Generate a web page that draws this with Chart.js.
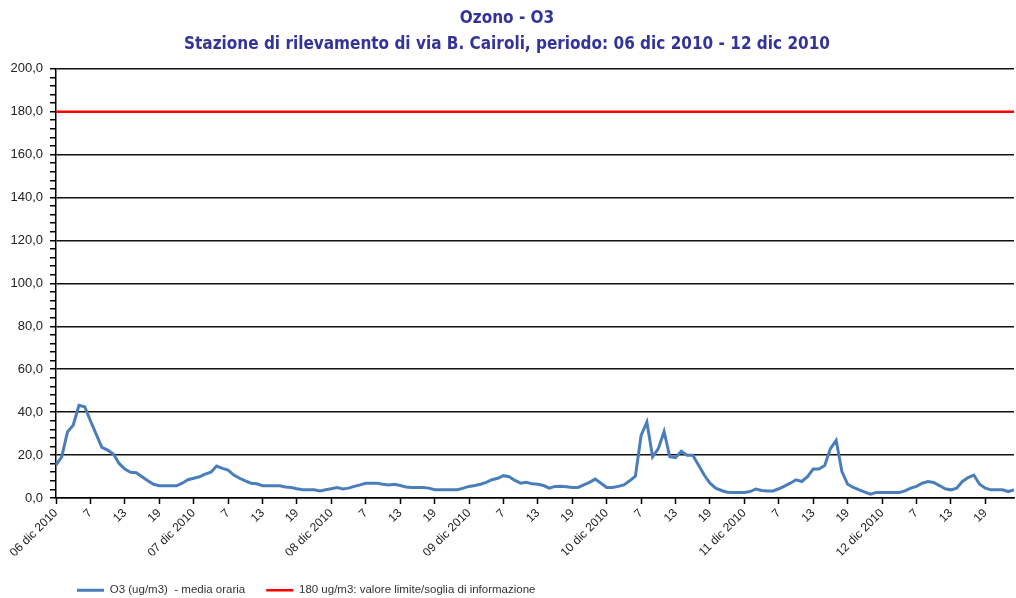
<!DOCTYPE html>
<html>
<head>
<meta charset="utf-8">
<script src="https://cdn.jsdelivr.net/npm/chart.js@4.4.1/dist/chart.umd.min.js"></script>
<style>
  html, body { margin: 0; padding: 0; background: #fff; }
  #wrap { width: 1016px; height: 598px; }
</style>
</head>
<body>
<div id="wrap"><canvas id="chart" width="1016" height="598"></canvas></div>
<script>
// days of the period, each with 24 hourly readings (hour 1 carries the date)
const days = ['06 dic 2010', '07 dic 2010', '08 dic 2010', '09 dic 2010', '10 dic 2010', '11 dic 2010', '12 dic 2010'];

// O3 hourly means (ug/m3), one array per day
const o3Day06 = [15.4, 19.2, 30.8, 33.9, 43.2, 42.5, 36.0, 29.8, 23.6, 22.3, 20.5, 16.1, 13.5, 12.0, 11.8, 9.9, 8.0, 6.4, 5.7, 5.7, 5.7, 5.7, 6.9, 8.5];
const o3Day07 = [9.2, 9.9, 11.1, 12.0, 14.9, 13.8, 13.0, 10.7, 9.2, 8.0, 6.9, 6.6, 5.7, 5.7, 5.7, 5.7, 5.1, 4.9, 4.3, 3.9, 3.9, 3.8, 3.3, 3.8];
const o3Day08 = [4.3, 4.9, 4.2, 4.6, 5.4, 6.1, 6.9, 6.9, 6.9, 6.4, 6.1, 6.4, 5.8, 5.1, 4.9, 4.9, 4.9, 4.6, 3.9, 3.9, 3.9, 3.9, 3.9, 4.6];
const o3Day09 = [5.4, 5.8, 6.4, 7.3, 8.5, 9.2, 10.4, 9.9, 8.2, 6.9, 7.3, 6.6, 6.4, 5.8, 4.6, 5.4, 5.5, 5.2, 4.9, 4.9, 6.1, 7.3, 8.8, 6.9];
const o3Day10 = [4.9, 4.9, 5.4, 6.1, 8.0, 10.2, 29.2, 35.4, 19.2, 23.0, 31.0, 19.2, 18.8, 21.8, 19.9, 19.9, 15.4, 10.7, 6.9, 4.6, 3.5, 2.7, 2.6, 2.6];
const o3Day11 = [2.6, 3.0, 4.2, 3.5, 3.3, 3.3, 4.3, 5.5, 6.9, 8.5, 7.7, 9.9, 13.5, 13.5, 15.1, 23.0, 26.9, 12.3, 6.4, 4.9, 3.8, 2.7, 1.8, 2.6];
const o3Day12 = [2.6, 2.6, 2.6, 2.6, 3.3, 4.6, 5.4, 6.9, 7.7, 7.2, 5.8, 4.3, 3.8, 4.6, 7.7, 9.5, 10.7, 6.4, 4.6, 3.8, 3.8, 3.8, 3.0, 3.8];

// information threshold
const limit = 180;

const o3 = [].concat(o3Day06, o3Day07, o3Day08, o3Day09, o3Day10, o3Day11, o3Day12);

const labels = [];
days.forEach(d => {
    for (let h = 1; h <= 24; h++) labels.push(h === 1 ? d : String(h));
});

const tickFont = "'Liberation Sans', Arial, sans-serif";

// move the legend down to where the original has it
const legendNudge = {
    id: 'legendNudge',
    afterLayout(chart) {
        chart.legend.top += 8;
    }
};

new Chart(document.getElementById('chart'), {
    type: 'line',
    data: {
        labels,
        datasets: [
            {
                label: 'O3 (ug/m3)  - media oraria',
                data: o3,
                borderColor: '#4A7EBB',
                backgroundColor: '#4A7EBB',
                borderWidth: 3,
                pointRadius: 0,
                tension: 0,
            },
            {
                label: limit + ' ug/m3: valore limite/soglia di informazione',
                data: labels.map(() => limit),
                borderColor: '#FF0000',
                backgroundColor: '#FF0000',
                borderWidth: 2.5,
                pointRadius: 0,
            },
        ],
    },
    options: {
        responsive: false,
        animation: false,
        layout: { padding: { left: 0, right: 2, top: 0, bottom: 0 } },
        plugins: {
            title: {
                display: true,
                text: ['Ozono - O3', 'Stazione di rilevamento di via B. Cairoli, periodo: 06 dic 2010 - 12 dic 2010'],
                color: '#333399',
                font: { family: "'DejaVu Sans Condensed', 'Liberation Sans Narrow', sans-serif", size: 17, weight: 'bold', lineHeight: 1.55 },
                padding: { top: 5, bottom: 11 },
            },
            legend: {
                position: 'bottom',
                align: 'start',
                fullSize: false,
                labels: {
                    color: '#333',
                    font: { family: tickFont, size: 11.5 },
                    usePointStyle: true,
                    pointStyle: 'line',
                    pointStyleWidth: 27,
                    padding: 21,
                },
            },
            tooltip: { enabled: false },
        },
        scales: {
            x: {
                type: 'category',
                afterFit: s => { s.height = 57.5; s.paddingRight = 0; },
                grid: {
                    drawOnChartArea: false,
                    tickLength: 6,
                    tickColor: c => (c.index % 6 === 0 ? '#000' : 'rgba(0,0,0,0)'),
                    tickWidth: 1.5,
                },
                border: { color: '#000', width: 1.5 },
                ticks: {
                    autoSkip: false,
                    minRotation: 45,
                    maxRotation: 45,
                    padding: 2,
                    color: '#222',
                    font: { family: tickFont, size: 12 },
                    callback: function (v, i) { return i % 6 === 0 ? this.getLabelForValue(v) : ''; },
                },
            },
            y: {
                min: 0,
                max: 200,
                afterFit: s => { s.width = 56; },
                grid: {
                    color: c => (c.tick && c.tick.value % 20 === 0 ? '#111' : 'rgba(0,0,0,0)'),
                    lineWidth: 1.5,
                    tickLength: 6,
                    tickColor: '#000',
                    tickWidth: 1.5,
                },
                border: { color: '#000', width: 1.5 },
                ticks: {
                    stepSize: 4,
                    maxTicksLimit: 60,
                    autoSkip: false,
                    padding: 7,
                    color: '#222',
                    font: { family: tickFont, size: 13 },
                    callback: v => (v % 20 === 0 ? v.toFixed(1).replace('.', ',') : ''),
                },
            },
        },
    },
    plugins: [legendNudge],
});
</script>
</body>
</html>
